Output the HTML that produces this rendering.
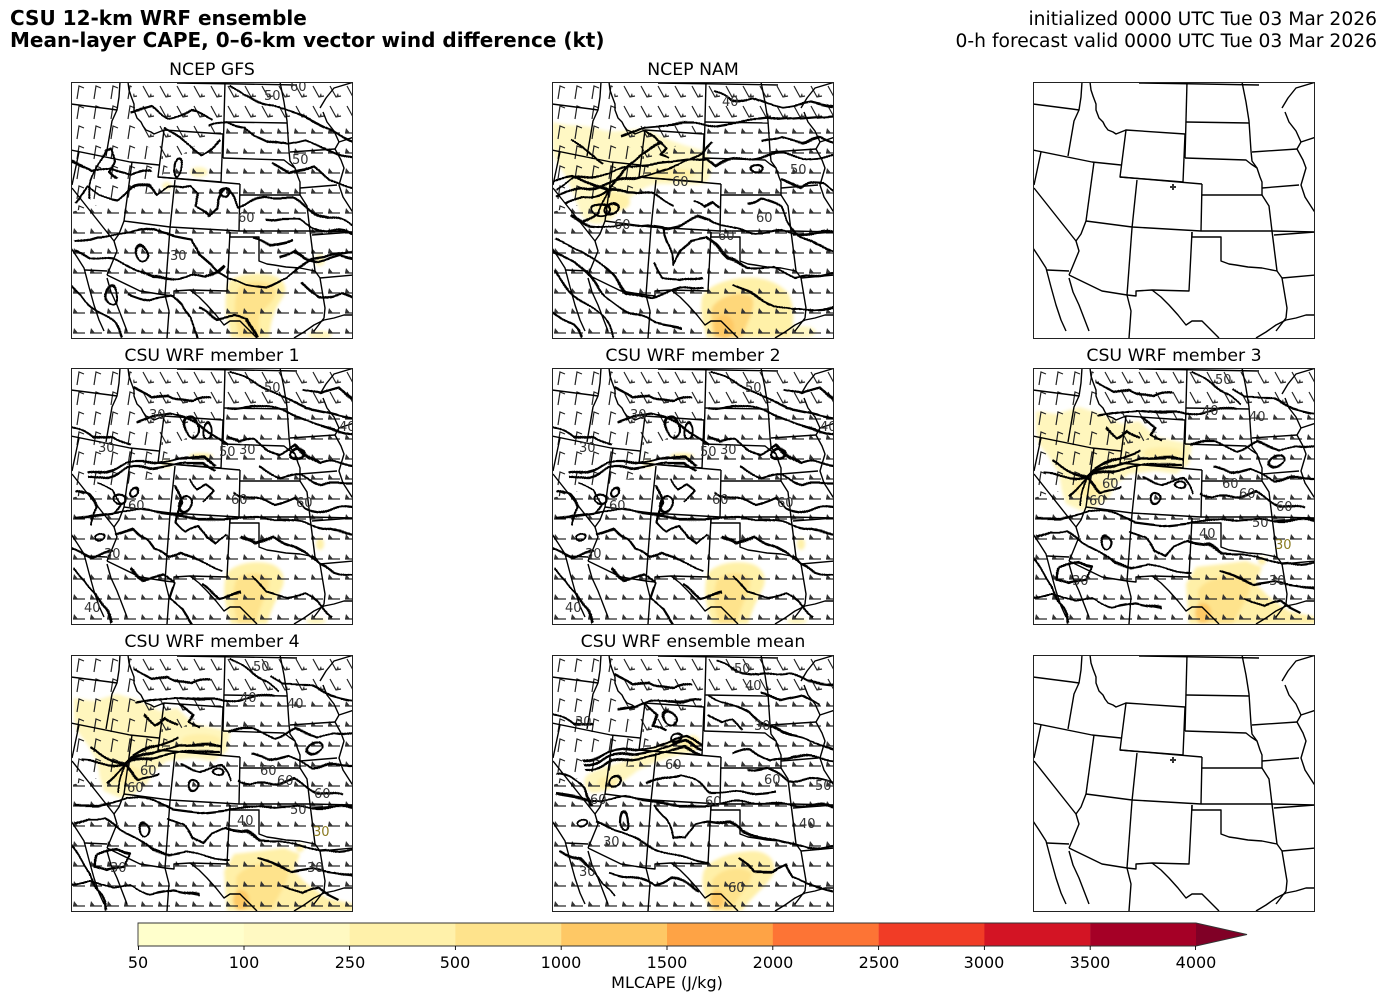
<!DOCTYPE html>
<html><head><meta charset="utf-8">
<style>
html,body{margin:0;padding:0;background:#fff;}
svg{display:block;}
text{font-family:"DejaVu Sans","Liberation Sans",sans-serif;}
</style></head>
<body>
<svg width="1387" height="1001" viewBox="0 0 1387 1001" xmlns="http://www.w3.org/2000/svg">
<defs>
 <clipPath id="pc"><rect x="0" y="0" width="282" height="257"/></clipPath>
 <clipPath id="clW"><polygon points="0,0 60,0 70,60 100,80 80,110 0,130"/></clipPath>
 <clipPath id="clN"><polygon points="60,0 283,0 283,40 160,40 100,80 70,60"/></clipPath>
 <clipPath id="clE"><polygon points="0,130 80,110 100,80 160,40 283,40 283,257 0,257"/></clipPath>
 <filter id="bl" x="-20%" y="-20%" width="140%" height="140%"><feGaussianBlur stdDeviation="1.6"/></filter>
 <filter id="wig" x="-5%" y="-5%" width="110%" height="110%">
  <feTurbulence type="fractalNoise" baseFrequency="0.035" numOctaves="1" seed="4" result="n"/>
  <feDisplacementMap in="SourceGraphic" in2="n" scale="14" xChannelSelector="R" yChannelSelector="G"/>
 </filter>
 <pattern id="pE" width="17" height="20" patternUnits="userSpaceOnUse">
  <path d="M2,11 H14" stroke="#222" stroke-width="1.2" fill="none"/>
  <path d="M2,11 L7,11 L3,6 Z" fill="#333"/>
 </pattern>
 <pattern id="pW" width="17" height="20" patternUnits="userSpaceOnUse">
  <path d="M6,17 L8,4 L13,6" stroke="#222" stroke-width="1.2" fill="none"/>
 </pattern>
 <pattern id="pN" width="17" height="20" patternUnits="userSpaceOnUse">
  <path d="M4,4 L10,15 L15,14" stroke="#222" stroke-width="1.2" fill="none"/>
  <path d="M10,15 L13,15 L12,11 Z" fill="#333"/>
 </pattern>

 <g id="states" fill="none" stroke="#000" stroke-width="1.4" stroke-linejoin="round">
  <path d="M0,22 L39,27 L46,28"/>
  <path d="M49,0 L48,15 L46,28 L41,39 L35,74"/>
  <path d="M57,0 L58,8 L60,14 L63,22 L63,28 L66,36 L70,40 L72,44 L75,48 L80,50 L83,52 L88,50 L93,48"/>
  <path d="M93,48 L152,52 L150,100 L87,95 Z"/>
  <path d="M0,68 L59,80 L88,83"/>
  <path d="M61,80 L53,139"/>
  <path d="M8,70 L1,103"/>
  <path d="M1,106 L43,159 L46,169 L39,186 L36,193"/>
  <path d="M53,139 L48,152 L43,159"/>
  <path d="M53,139 L99,145 L168,149 L239,149 L283,150"/>
  <path d="M87,95 L169,102"/>
  <path d="M104,98 L99,146"/>
  <path d="M169,102 L168,149"/>
  <path d="M169,113 L229,113"/>
  <path d="M152,76 L213,78 L218,82 L224,86 L227,95 L229,100 L229,113"/>
  <path d="M229,113 L236,124 L239,149"/>
  <path d="M153,40 L216,41"/>
  <path d="M154,0 L152,76"/>
  <path d="M209,0 L213,20 L216,39 L218,69 L219,79 L224,86"/>
  <path d="M219,70 L264,67"/>
  <path d="M229,106 L266,103"/>
  <path d="M283,55 L268,60 L264,67 L270,78 L273,86 L268,103 L272,115 L281,129 L283,131"/>
  <path d="M249,26 L255,16 L263,6 L283,0"/>
  <path d="M252,30 L256,40 L263,49 L268,60"/>
  <path d="M241,153 L283,150"/>
  <path d="M159,150 L159,155 L188,155 L188,179 L196,182 L203,183 L215,185 L229,186 L244,189"/>
  <path d="M239,149 L244,189"/>
  <path d="M249,196 L283,193"/>
  <path d="M244,189 L249,196 L254,226 L253,236 L243,249"/>
  <path d="M99,146 L94,213"/>
  <path d="M159,150 L156,209 L119,208 L103,209 L103,214 L94,213"/>
  <path d="M36,193 L69,209 L94,213"/>
  <path d="M14,188 L36,189"/>
  <path d="M119,208 L128,215 L136,223 L145,233 L153,243 L159,239 L169,239 L178,248 L186,256"/>
  <path d="M0,166 L6,175 L13,186 L18,205 L23,223 L28,238 L33,249"/>
  <path d="M36,196 L40,210 L46,223 L51,236 L56,249"/>
  <path d="M94,213 L98,229 L96,256"/>
  <path d="M223,256 L233,250 L243,243 L253,238 L263,236 L273,233 L283,233"/>
  <path d="M106,1 L170,2 L226,3"/>
 </g>

 <g id="barbs">
  <rect x="0" y="0" width="282" height="257" fill="url(#pW)" clip-path="url(#clW)"/>
  <rect x="0" y="0" width="282" height="257" fill="url(#pN)" clip-path="url(#clN)"/>
  <rect x="0" y="0" width="282" height="257" fill="url(#pE)" clip-path="url(#clE)"/>
 </g>

 <!-- M1 data (shared with M2) -->
 <g id="dM1">
  <g filter="url(#bl)">
   <path d="M156,205 C165,195 185,192 200,196 C212,200 216,212 210,222 C205,232 200,242 196,256 L160,256 C155,240 150,222 156,205 Z" fill="#fff1a8"/>
   <path d="M165,212 C175,203 192,203 198,212 C200,222 190,232 185,256 L167,256 C162,240 160,225 165,212 Z" fill="#fee38c"/>
   <ellipse cx="96" cy="96" rx="6" ry="4" fill="#fff6bd"/>
   <ellipse cx="249" cy="176" rx="4" ry="6" fill="#fff1a8"/>
   <ellipse cx="130" cy="88" rx="12" ry="3" fill="#fff1a8"/>
   <ellipse cx="245" cy="253" rx="10" ry="3" fill="#fff6bd"/>
  </g>
  <use href="#barbs"/>
  <use href="#states"/>
  <g fill="none" stroke="#000" stroke-width="2.2" stroke-linejoin="round" filter="url(#wig)">
   <polyline points="63,56 83,49 103,46 123,53 136,63 146,69 156,76"/>
   <polyline points="16,106 36,103 56,96 76,96 96,93 116,89 136,89 146,96"/>
   <polyline points="16,111 36,108 56,101 76,101 96,98 116,94 136,94 146,101"/>
   <polyline points="3,149 29,146 49,143 76,143 103,146 129,149 156,149 183,153 209,153 236,156 263,163 283,166"/>
   <polyline points="156,39 183,36 209,43 229,49 256,59 283,66"/>
   <polyline points="156,69 169,76 183,73 196,83 209,86 223,79 236,89 249,96 263,93 283,96"/>
   <polyline points="163,123 183,129 203,136 223,129 236,139 256,143 283,140"/>
   <polyline points="103,119 109,136 106,153 116,163 129,156 136,169 146,176 156,166"/>
   <polyline points="46,169 63,163 76,169 83,183 96,189 109,183 123,189 136,196 149,203"/>
   <polyline points="169,169 183,176 203,169 223,176 236,183 249,196 263,203 283,209"/>
   <polyline points="183,209 196,223 216,229 236,226 249,236 263,249"/>
   <polyline points="156,3 176,12 196,20 215,30 235,40 260,45 283,50"/>
   <polyline points="3,200 15,210 25,225 30,240 40,256"/>
   <polyline points="60,200 75,210 90,205 100,215 95,230 110,240 120,256"/>
   <polyline points="3,125 15,130 25,140 20,155"/>
   <polyline points="120,110 125,120 135,115 140,125 130,135"/>
   <polyline points="26,115 40,120 50,135 40,145"/>
   <polyline points="0,60 20,70 40,65 60,75"/>
   <polyline points="190,100 210,110 230,105 250,115 283,115"/>
   <polyline points="60,20 80,30 100,25 120,35 140,30"/>
   <polyline points="0,180 20,190 40,185"/>
   <polyline points="130,220 150,230 170,225"/>
   <polyline points="230,20 250,25 270,20 283,30"/>
   <ellipse cx="66" cy="124" rx="4" ry="4"/>
   <ellipse cx="49" cy="129" rx="8" ry="5"/>
   <ellipse cx="29" cy="169" rx="6" ry="4"/>
   <ellipse cx="119" cy="59" rx="6" ry="10"/>
   <ellipse cx="113" cy="136" rx="6" ry="8"/>
   <ellipse cx="135" cy="62" rx="5" ry="8"/>
   <ellipse cx="226" cy="86" rx="6" ry="4"/>
  </g>
  <g font-size="13" fill="#333">
   <text x="78" y="51">30</text><text x="193" y="24">50</text><text x="268" y="63">40</text>
   <text x="225" y="139">60</text><text x="160" y="136">60</text><text x="168" y="86">30</text>
   <text x="148" y="88">50</text><text x="33" y="190">30</text><text x="13" y="244">40</text>
   <text x="57" y="142">60</text><text x="27" y="84">30</text>
  </g>
 </g>

 <!-- M3 data (shared with M4) -->
 <g id="dM3">
  <g filter="url(#bl)">
   <path d="M3,43 L23,46 L46,39 L69,46 L89,56 L106,53 L123,69 L143,73 L159,76 L156,96 L143,106 L123,103 L96,106 L83,116 L76,129 L63,139 L49,143 L33,136 L29,123 L26,106 L16,89 L6,76 L3,63 Z" fill="#fff6bd"/>
   <ellipse cx="56" cy="120" rx="16" ry="9" fill="#fff0a8"/>
   <ellipse cx="130" cy="85" rx="20" ry="6" fill="#fff0a8"/>
   <path d="M153,216 L163,199 L189,196 L213,193 L229,199 L223,216 L236,229 L256,243 L283,249 L283,256 L156,256 Z" fill="#fff0a8"/>
   <path d="M165,222 C175,208 200,205 215,212 C222,222 210,235 200,256 L165,256 Z" fill="#fee38c"/>
   <ellipse cx="170" cy="245" rx="8" ry="10" fill="#fec965"/>
   <ellipse cx="229" cy="193" rx="4" ry="4" fill="#fff0a8"/>
  </g>
  <use href="#barbs"/>
  <use href="#states"/>
  <g fill="none" stroke="#000" stroke-width="2.2" stroke-linejoin="round" filter="url(#wig)">
   <polyline points="63,49 83,46 106,43 129,46 153,46 169,43 186,39 203,43"/>
   <polyline points="53,109 9,106"/>
   <polyline points="53,109 19,93"/>
   <polyline points="53,109 79,93 106,83"/>
   <polyline points="53,109 82,97 110,90 149,89"/>
   <polyline points="53,109 84,102 120,95 149,95"/>
   <polyline points="53,109 33,129"/>
   <polyline points="53,109 46,136"/>
   <polyline points="53,109 70,125 90,120"/>
   <polyline points="3,149 29,149 56,143 83,146 103,153 129,156 156,153 183,156 209,153 236,153 283,153"/>
   <polyline points="156,76 183,76 203,83 223,76 243,83 263,76 283,79"/>
   <polyline points="169,123 183,129 203,129 223,123 236,129 249,136 269,143"/>
   <polyline points="156,3 176,16 196,26 209,39"/>
   <polyline points="3,169 16,163 36,163 49,176 63,183 83,196 96,199 116,196 136,203 156,206"/>
   <polyline points="96,163 113,169 123,183 136,189 143,179 156,173 176,176 189,183 209,183 229,189 249,196 283,193"/>
   <polyline points="189,203 203,209 223,216 243,213 263,216 283,223"/>
   <polyline points="26,199 43,196 59,199 56,209 36,213 26,209 26,199"/>
   <polyline points="110,50 120,58 115,66 128,72"/>
   <polyline points="200,20 215,30 240,30 260,40 283,45"/>
   <polyline points="0,190 10,200 20,215 25,235 35,256"/>
   <polyline points="70,60 85,68 95,62 105,70"/>
   <polyline points="60,15 80,25 100,20 120,30 140,25"/>
   <polyline points="180,100 200,105 220,100 240,110 283,110"/>
   <polyline points="0,230 20,225 40,235 60,230 80,240 100,235 130,240"/>
   <polyline points="110,110 130,115 150,110 160,125"/>
   <polyline points="210,230 230,240 250,235 270,245"/>
   <ellipse cx="243" cy="93" rx="8" ry="5"/>
   <ellipse cx="146" cy="118" rx="5" ry="4"/>
   <ellipse cx="73" cy="174" rx="5" ry="8"/>
   <ellipse cx="120" cy="130" rx="5" ry="6"/>
  </g>
  <g font-size="13" fill="#333">
   <text x="182" y="16">50</text><text x="169" y="47">40</text><text x="216" y="53">40</text>
   <text x="189" y="120">60</text><text x="206" y="130">60</text><text x="243" y="143">60</text>
   <text x="219" y="159">50</text><text x="166" y="170">40</text><text x="242" y="181" fill="#8a7a20">30</text>
   <text x="236" y="217">30</text><text x="39" y="217">30</text><text x="69" y="120">60</text>
   <text x="56" y="137">60</text>
  </g>
 </g>
</defs>

<!-- Titles -->
<text x="10" y="25" font-size="20" font-weight="bold">CSU 12-km WRF ensemble</text>
<text x="10" y="47" font-size="20" font-weight="bold">Mean-layer CAPE, 0–6-km vector wind difference (kt)</text>
<text x="1377" y="25" font-size="18.7" text-anchor="end">initialized 0000 UTC Tue 03 Mar 2026</text>
<text x="1377" y="47" font-size="18.7" text-anchor="end">0-h forecast valid 0000 UTC Tue 03 Mar 2026</text>

<g font-size="17.3" text-anchor="middle">
 <text x="212" y="75">NCEP GFS</text>
 <text x="693" y="75">NCEP NAM</text>
 <text x="212" y="361">CSU WRF member 1</text>
 <text x="693" y="361">CSU WRF member 2</text>
 <text x="1174" y="361">CSU WRF member 3</text>
 <text x="212" y="647">CSU WRF member 4</text>
 <text x="693" y="647">CSU WRF ensemble mean</text>
</g>

<!-- GFS -->
<g transform="translate(71,82)"><g clip-path="url(#pc)">
 <g filter="url(#bl)">
  <path d="M158,200 C165,192 185,190 200,193 C212,196 218,205 212,215 C205,225 200,235 198,256 L160,256 C158,240 150,225 158,200 Z" fill="#fff1a8"/>
  <path d="M168,205 C178,198 195,198 203,205 C208,212 200,222 192,228 C186,236 188,246 190,256 L168,256 C165,240 160,222 168,205 Z" fill="#fee38c"/>
  <ellipse cx="96" cy="104" rx="5" ry="4" fill="#fff6bd"/>
  <ellipse cx="249" cy="178" rx="5" ry="6" fill="#fff6bd"/>
  <ellipse cx="128" cy="90" rx="9" ry="5" fill="#fff6bd"/>
  <ellipse cx="249" cy="253" rx="12" ry="4" fill="#fff6bd"/>
 </g>
 <use href="#barbs"/>
 <use href="#states"/>
 <g fill="none" stroke="#000" stroke-width="2.2" stroke-linejoin="round" filter="url(#wig)">
  <polyline points="3,159 29,153 56,153 83,148 106,153 123,156 129,173 143,183 156,196 176,203 196,206 216,196 229,183 243,176 283,169"/>
  <polyline points="3,123 16,106 29,113 46,116 63,106 76,103 86,113 96,106 113,106 123,103 129,109 123,123 136,136 143,129 146,119 153,106 163,116 169,123 183,119 196,116 223,116 236,123 256,136 276,143 283,146"/>
  <polyline points="136,46 156,39 176,43 183,53 196,59 216,63 236,59 256,66 283,76"/>
  <polyline points="156,3 173,16 203,23 229,33 256,46 283,59"/>
  <polyline points="46,96 39,89 43,76 39,63 33,66 26,83 19,103 16,120"/>
  <polyline points="3,169 16,176 43,179 63,189 83,196 106,196 123,193 136,196 149,189 156,183"/>
  <polyline points="196,139 209,136 229,136 243,143 256,149 283,153"/>
  <polyline points="129,229 149,236 166,233 176,236 186,256"/>
  <polyline points="96,46 110,56 120,66 130,73 140,66 150,58"/>
  <polyline points="209,173 223,169 236,176 249,179 269,173 283,176"/>
  <polyline points="0,203 10,210 20,223 30,233 40,243 50,256"/>
  <polyline points="60,209 80,216 96,213 110,223 120,236 125,256"/>
  <polyline points="0,80 20,90 40,85 60,95 80,90"/>
  <polyline points="200,80 220,90 240,85 260,100 283,105"/>
  <polyline points="60,30 80,25 100,35 120,30 140,40"/>
  <polyline points="230,200 250,215 270,210 283,220"/>
  <polyline points="180,160 200,165 220,160"/>
  <ellipse cx="71" cy="171" rx="6" ry="8"/>
  <ellipse cx="153" cy="111" rx="4" ry="5"/>
  <ellipse cx="106" cy="86" rx="4" ry="9"/>
  <ellipse cx="41" cy="213" rx="6" ry="9"/>
 </g>
 <g font-size="13" fill="#333">
  <text x="99" y="178">30</text><text x="167" y="140">60</text><text x="193" y="18">50</text>
  <text x="221" y="82">50</text><text x="219" y="9">60</text>
 </g>
 <rect x="0.5" y="0.5" width="281" height="256" fill="none" stroke="#222" stroke-width="1"/>
</g></g>

<!-- NAM -->
<g transform="translate(552,82)"><g clip-path="url(#pc)">
 <g filter="url(#bl)">
  <path d="M0,40 C20,45 35,42 50,48 C65,52 80,45 96,48 C110,55 125,62 150,68 C160,74 162,88 155,100 C140,106 120,100 100,103 C85,108 75,118 62,135 C50,145 35,145 28,130 C22,112 15,95 5,80 C0,72 0,60 0,40 Z" fill="#fff8c4"/>
  <ellipse cx="60" cy="120" rx="18" ry="10" fill="#fff1a8"/>
  <ellipse cx="118" cy="92" rx="25" ry="6" fill="#fff1a8"/>
  <path d="M150,215 C155,205 170,198 190,196 C210,194 225,200 235,210 C245,225 240,245 240,256 L155,256 C150,240 148,228 150,215 Z" fill="#fff1a8"/>
  <path d="M160,225 C170,212 190,208 200,215 C205,225 195,240 190,256 L162,256 C160,245 158,235 160,225 Z" fill="#fed77a"/>
  <ellipse cx="172" cy="245" rx="10" ry="12" fill="#fec965"/>
  <ellipse cx="250" cy="250" rx="14" ry="6" fill="#fff8c4"/>
 </g>
 <use href="#barbs"/>
 <use href="#states"/>
 <g fill="none" stroke="#000" stroke-width="2.2" stroke-linejoin="round" filter="url(#wig)">
  <polyline points="66,56 96,46 129,43 156,43 183,39 209,39 240,36 283,33"/>
  <polyline points="3,109 23,96 56,93 89,83 129,79 153,76 163,83 183,79 203,76 229,73 249,76 283,73"/>
  <polyline points="3,116 29,106 56,103 83,96 109,89 129,83 150,70 160,60"/>
  <polyline points="16,136 36,143 63,146 96,143 116,146 129,143 143,136 156,136 169,143 183,149 200,153 230,149 260,153 283,150"/>
  <polyline points="3,156 29,169 46,183 63,196 76,209 96,216 129,209 149,206"/>
  <polyline points="113,146 119,163 123,183 129,169 139,156 153,153 163,163 176,176 196,183 223,183 243,196 283,189"/>
  <polyline points="183,203 196,209 209,216 223,223 243,229 283,226"/>
  <polyline points="196,123 209,116 229,123 236,136 249,153 263,163 283,169"/>
  <polyline points="3,189 16,203 36,223 49,236 63,256"/>
  <polyline points="56,109 40,100 20,95 0,98"/>
  <polyline points="56,109 80,110 100,113 120,123"/>
  <polyline points="56,109 30,115 10,125"/>
  <polyline points="56,109 70,95 90,70 110,60"/>
  <polyline points="56,109 45,130 30,140"/>
  <polyline points="96,50 105,56 112,66 106,73 115,76"/>
  <polyline points="140,120 150,126 160,120 170,123"/>
  <polyline points="160,10 180,20 200,15 230,25 260,20 283,25"/>
  <polyline points="0,170 20,180 40,200 60,215 80,230 100,240 130,245"/>
  <polyline points="20,60 40,70 50,80"/>
  <polyline points="230,95 250,105 270,100 283,110"/>
  <polyline points="100,180 110,195 130,200 150,195"/>
  <polyline points="0,230 20,245 30,256"/>
  <polyline points="210,60 230,55 250,60 270,55 283,60"/>
  <ellipse cx="49" cy="126" rx="12" ry="6"/>
  <ellipse cx="62" cy="126" rx="8" ry="5"/>
  <ellipse cx="205" cy="86" rx="6" ry="4"/>
 </g>
 <g font-size="13" fill="#333">
  <text x="170" y="24">40</text><text x="238" y="92">50</text><text x="204" y="140">60</text>
  <text x="166" y="158">60</text><text x="62" y="147">60</text><text x="120" y="104">60</text>
 </g>
 <rect x="0.5" y="0.5" width="281" height="256" fill="none" stroke="#222" stroke-width="1"/>
</g></g>

<!-- Blank map top-right -->
<g transform="translate(1033,82)"><g clip-path="url(#pc)">
 <use href="#states"/>
 <path d="M137,105 H143 M140,102 V108" stroke="#333" stroke-width="2"/>
 <rect x="0.5" y="0.5" width="281" height="256" fill="none" stroke="#222" stroke-width="1"/>
</g></g>

<!-- Member 1 -->
<g transform="translate(71,368)"><g clip-path="url(#pc)">
 <use href="#dM1"/>
 <rect x="0.5" y="0.5" width="281" height="256" fill="none" stroke="#222" stroke-width="1"/>
</g></g>
<!-- Member 2 -->
<g transform="translate(552,368)"><g clip-path="url(#pc)">
 <use href="#dM1"/>
 <rect x="0.5" y="0.5" width="281" height="256" fill="none" stroke="#222" stroke-width="1"/>
</g></g>
<!-- Member 3 -->
<g transform="translate(1033,368)"><g clip-path="url(#pc)">
 <use href="#dM3"/>
 <rect x="0.5" y="0.5" width="281" height="256" fill="none" stroke="#222" stroke-width="1"/>
</g></g>
<!-- Member 4 -->
<g transform="translate(71,655)"><g clip-path="url(#pc)">
 <use href="#dM3"/>
 <rect x="0.5" y="0.5" width="281" height="256" fill="none" stroke="#222" stroke-width="1"/>
</g></g>

<!-- Ensemble mean -->
<g transform="translate(552,655)"><g clip-path="url(#pc)">
 <g filter="url(#bl)">
  <path d="M35,120 C50,110 70,110 85,100 C100,93 120,85 140,80 C150,80 150,95 140,98 C120,100 100,108 85,116 C70,128 55,138 40,138 C32,135 30,125 35,120 Z" fill="#fff6bd"/>
  <ellipse cx="55" cy="128" rx="10" ry="6" fill="#fff0a8"/>
  <ellipse cx="138" cy="88" rx="10" ry="6" fill="#fff0a8"/>
  <path d="M152,215 C160,203 180,197 200,196 C215,196 225,205 222,218 C215,232 200,240 190,256 L158,256 C152,240 148,228 152,215 Z" fill="#fff0a8"/>
  <path d="M160,225 C170,212 190,210 200,218 C200,230 185,240 180,256 L162,256 Z" fill="#fee38c"/>
  <ellipse cx="165" cy="245" rx="7" ry="9" fill="#fec965"/>
 </g>
 <use href="#barbs"/>
 <use href="#states"/>
 <g fill="none" stroke="#000" stroke-width="2.2" stroke-linejoin="round" filter="url(#wig)">
  <polyline points="63,56 83,53 103,46 129,48 149,46"/>
  <polyline points="33,109 56,103 83,99 103,96 123,89 136,86 149,93"/>
  <polyline points="33,114 56,108 83,104 103,101 123,94 136,91 149,98"/>
  <polyline points="33,105 56,99 83,95 103,92 123,85 136,82 149,88"/>
  <polyline points="3,139 29,143 49,146 76,143 103,146 129,149 156,149 183,149 209,149 236,149 283,153"/>
  <polyline points="156,39 176,46 196,56 209,69 229,79 249,83 283,93"/>
  <polyline points="163,6 183,16 209,19 236,16 256,26 283,29"/>
  <polyline points="196,116 216,113 236,123 256,123 283,129"/>
  <polyline points="96,129 109,123 129,119 143,129 156,136 169,136 196,139 223,136"/>
  <polyline points="103,149 116,163 123,183 136,183 143,169 156,166 176,169 189,176 209,179 236,186 256,193 283,189"/>
  <polyline points="46,169 69,176 89,189 109,196 129,203 153,209"/>
  <polyline points="189,203 203,216 223,216 236,209 243,223 256,229 283,236"/>
  <polyline points="9,196 29,203 43,216 49,229 63,243"/>
  <polyline points="3,120 15,125 30,135 40,150"/>
  <polyline points="96,50 106,60 100,70 112,76"/>
  <polyline points="156,60 170,70 180,66 190,76"/>
  <polyline points="60,20 80,30 100,25 120,35 140,30"/>
  <polyline points="180,100 200,95 220,105 240,100 283,105"/>
  <polyline points="60,215 80,220 100,230 120,225 150,235"/>
  <polyline points="0,60 20,70 40,65"/>
  <polyline points="210,40 230,45 250,40 270,50"/>
  <ellipse cx="31" cy="168" rx="6" ry="4"/>
  <ellipse cx="66" cy="126" rx="6" ry="5"/>
  <ellipse cx="126" cy="83" rx="6" ry="4"/>
  <ellipse cx="116" cy="63" rx="6" ry="7"/>
  <ellipse cx="73" cy="166" rx="4" ry="8"/>
 </g>
 <g font-size="13" fill="#333">
  <text x="23" y="71">30</text><text x="182" y="18">50</text><text x="193" y="35">40</text>
  <text x="202" y="75">30</text><text x="113" y="114">60</text><text x="212" y="129">60</text>
  <text x="263" y="135">50</text><text x="153" y="151">60</text><text x="247" y="173">40</text>
  <text x="51" y="191">30</text><text x="27" y="221">30</text><text x="38" y="149">60</text>
  <text x="176" y="237">60</text>
 </g>
 <rect x="0.5" y="0.5" width="281" height="256" fill="none" stroke="#222" stroke-width="1"/>
</g></g>

<!-- Blank map bottom-right -->
<g transform="translate(1033,655)"><g clip-path="url(#pc)">
 <use href="#states"/>
 <path d="M137,105 H143 M140,102 V108" stroke="#333" stroke-width="2"/>
 <rect x="0.5" y="0.5" width="281" height="256" fill="none" stroke="#222" stroke-width="1"/>
</g></g>

<!-- Colorbar -->
<g>
 <rect x="138" y="923" width="106" height="23" fill="#ffffcc"/>
 <rect x="243.8" y="923" width="106" height="23" fill="#fff9c2"/>
 <rect x="349.6" y="923" width="106" height="23" fill="#fff1aa"/>
 <rect x="455.4" y="923" width="106" height="23" fill="#fee38c"/>
 <rect x="561.2" y="923" width="106" height="23" fill="#fec865"/>
 <rect x="667" y="923" width="106" height="23" fill="#fea345"/>
 <rect x="772.8" y="923" width="106" height="23" fill="#fd7435"/>
 <rect x="878.6" y="923" width="106" height="23" fill="#f13c26"/>
 <rect x="984.4" y="923" width="106" height="23" fill="#d31424"/>
 <rect x="1090.2" y="923" width="105.8" height="23" fill="#a50026"/>
 <polygon points="1196,923 1196,946 1247,934.5" fill="#800026"/>
 <path d="M138,923 H1196 L1247,934.5 L1196,946 H138 Z" fill="none" stroke="#333" stroke-width="0.9"/>
 <g stroke="#000" stroke-width="0.9">
  <path d="M138.5,946 v4 M244,946 v4 M349.6,946 v4 M455.4,946 v4 M561.2,946 v4 M667,946 v4 M772.8,946 v4 M878.6,946 v4 M984.4,946 v4 M1090.2,946 v4 M1195.5,946 v4"/>
 </g>
 <g font-size="16" text-anchor="middle">
  <text x="138" y="968">50</text>
  <text x="244" y="968">100</text>
  <text x="350" y="968">250</text>
  <text x="455" y="968">500</text>
  <text x="561" y="968">1000</text>
  <text x="667" y="968">1500</text>
  <text x="773" y="968">2000</text>
  <text x="879" y="968">2500</text>
  <text x="984" y="968">3000</text>
  <text x="1090" y="968">3500</text>
  <text x="1196" y="968">4000</text>
 </g>
 <text x="667" y="988" font-size="16" text-anchor="middle">MLCAPE (J/kg)</text>
</g>
</svg>
</body></html>
